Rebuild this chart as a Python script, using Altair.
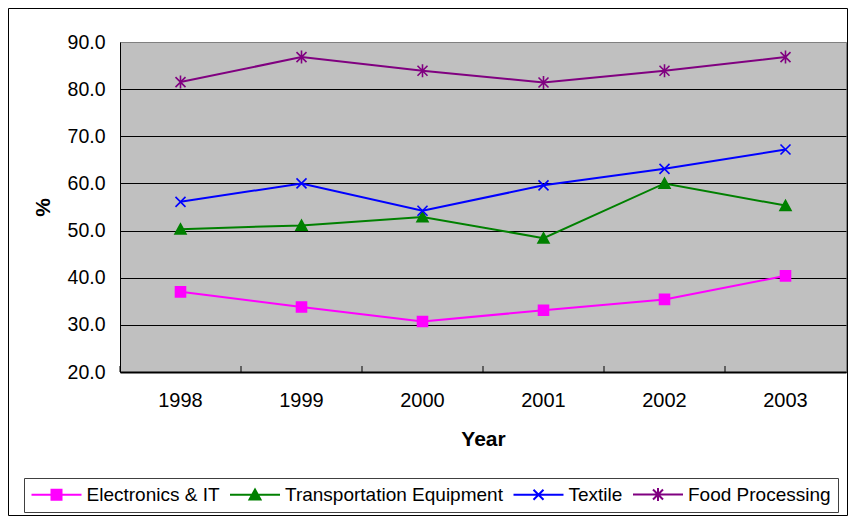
import altair as alt
import pandas as pd

years = ["1998", "1999", "2000", "2001", "2002", "2003"]
series = ["Electronics & IT", "Transportation Equipment", "Textile", "Food Processing"]
electronics = [37.0, 33.8, 30.7, 33.1, 35.4, 40.4]
transport = [50.3, 51.1, 52.9, 48.4, 60.0, 55.3]
textile = [56.1, 60.0, 54.2, 59.6, 63.1, 67.2]
food = [81.5, 86.8, 83.9, 81.4, 83.9, 86.8]
y_ticks = [20, 30, 40, 50, 60, 70, 80, 90]

colors = ["#FF00FF", "#008000", "#0000FF", "#800080"]
marker_paths = [
    "M-1,-1H1V1H-1Z",
    "M0,-1.05L1.1,0.95H-1.1Z",
    "M-1,-1L1,1M-1,1L1,-1",
    "M-1,-1L1,1M-1,1L1,-1M0,-1.3V1.3",
]
legend_paths = ["M-5,0H5" + p for p in marker_paths]

rows = []
for name, vals in zip(series, [electronics, transport, textile, food]):
    for yr, v in zip(years, vals):
        rows.append({"year": yr, "series": name, "value": v})
df = pd.DataFrame(rows)

FONT = "Liberation Sans"

x_axis = alt.Axis(
    title="Year", titleFont=FONT, titleFontSize=21, titleFontWeight="bold", titleColor="black",
    titlePadding=18, labelFont=FONT, labelFontSize=20, labelColor="black", labelAngle=0,
    labelPadding=18, ticks=False, grid=False, domainColor="black", domainWidth=2,
)
x_scale = alt.Scale(type="band", paddingInner=0, paddingOuter=0)
x_enc = alt.X("year:N", scale=x_scale, axis=x_axis, sort=years)

y_axis = alt.Axis(
    title="%", titleFont=FONT, titleFontSize=21, titleFontWeight="bold", titleColor="black",
    titleX=-77, titleY=165, titleAlign="center", titleBaseline="middle",
    values=y_ticks, format=".1f", labelFont=FONT, labelFontSize=19.5, labelColor="black",
    labelPadding=15, ticks=False, domainColor="black", domainWidth=1,
    grid=True, gridColor={"condition": {"test": "datum.value >= 90", "value": "#808080"}, "value": "black"},
    gridWidth=1, gridOpacity=1,
)
y_enc = alt.Y("value:Q", scale=alt.Scale(domain=[20, 90], nice=False, zero=False), axis=y_axis)

border = alt.Chart(alt.Data(values=[{}])).mark_rect(
    fill="transparent", stroke="black", strokeWidth=1
).encode(
    x=alt.value(-111.5), x2=alt.value(727.5), y=alt.value(-33.5), y2=alt.value(473.5)
)

ticks = alt.Chart(pd.DataFrame({"year": years})).mark_rule(color="black", strokeWidth=1).encode(
    x=alt.X("year:N", scale=x_scale, axis=x_axis, sort=years, bandPosition=0),
    y=alt.value(324), y2=alt.value(330),
)

leg = alt.Legend(
    title=None, orient="none", legendX=-96, legendY=436, direction="horizontal",
    labelFont=FONT, labelFontSize=19, labelColor="black", labelLimit=500,
    symbolOffset=16, labelOffset=20.5, columnPadding=5.5, padding=7,
    symbolStrokeWidth=2, symbolOpacity=1,
    symbolSize=100, strokeColor="#404040", fillColor="white",
)
legend_layer = alt.Chart(df).mark_point(opacity=0, size=100).encode(
    x=x_enc, y=y_enc,
    shape=alt.Shape("series:N", scale=alt.Scale(domain=series, range=legend_paths), legend=leg),
    fill=alt.Fill("series:N", scale=alt.Scale(domain=series, range=colors), legend=leg),
    stroke=alt.Stroke("series:N", scale=alt.Scale(domain=series, range=colors), legend=leg),
)

line_layers = []
point_layers = []
for name, col, path in zip(series, colors, marker_paths):
    line_layers.append(
        alt.Chart(df).transform_filter(alt.datum.series == name).mark_line(
            color=col, strokeWidth=2
        ).encode(x=x_enc, y=y_enc)
    )
    point_layers.append(
        alt.Chart(df).transform_filter(alt.datum.series == name).mark_point(
            shape=path, size=100, fill=col, stroke=col, strokeWidth=1.6, opacity=1
        ).encode(x=x_enc, y=y_enc)
    )

chart = alt.layer(border, *line_layers, ticks, legend_layer, *point_layers).properties(
    width=726, height=330,
    autosize=alt.AutoSizeParams(type="none"),
    padding={"left": 112, "top": 34, "right": 2, "bottom": 144},
    background="white",
).configure_view(
    fill="#C0C0C0", stroke="#808080", strokeWidth=1
)

chart.save("out.html", embed_options={"renderer": "svg", "actions": False})
